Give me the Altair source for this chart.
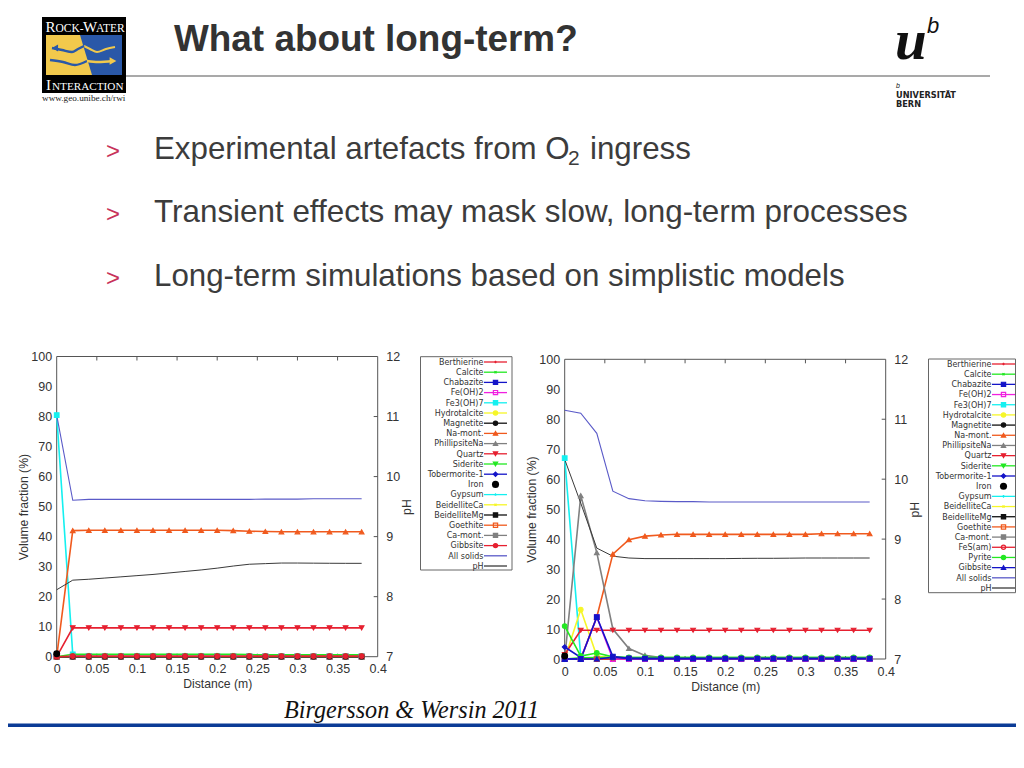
import altair as alt
import pandas as pd

# ---------- values ----------
X = [0, 0.02, 0.04, 0.06, 0.08, 0.1, 0.12, 0.14, 0.16, 0.18, 0.2, 0.22, 0.24, 0.26, 0.28, 0.3, 0.32, 0.34, 0.36, 0.38]
X_TICKS = [0, 0.05, 0.1, 0.15, 0.2, 0.25, 0.3, 0.35, 0.4]
Y_TICKS = [0, 10, 20, 30, 40, 50, 60, 70, 80, 90, 100]
PH_TICKS = [7, 8, 9, 10, 11, 12]

ZERO = [0, 0, 0, 0, 0, 0, 0, 0, 0, 0, 0, 0, 0, 0, 0, 0, 0, 0, 0, 0]

# left panel
L_CALCITE = [0, 0.8, 0.8, 0.8, 0.8, 0.8, 0.8, 0.8, 0.8, 0.8, 0.8, 0.8, 0.7, 0.6, 0.6, 0.6, 0.6, 0.6, 0.6, 0.6]
L_FE3 = [80.5, 0.8, 0.2, 0.1, 0.1, 0.1, 0.1, 0.1, 0.1, 0.1, 0.1, 0.1, 0.1, 0.1, 0.1, 0.1, 0.1, 0.1, 0.1, 0.1]
L_NAMONT = [0, 42, 42.1, 42.1, 42.1, 42.1, 42.1, 42.1, 42.1, 42.1, 42.1, 42, 41.8, 41.7, 41.6, 41.6, 41.6, 41.6, 41.6, 41.6]
L_QUARTZ = [0, 9.6, 9.6, 9.6, 9.6, 9.6, 9.6, 9.6, 9.6, 9.6, 9.6, 9.6, 9.6, 9.6, 9.6, 9.6, 9.6, 9.6, 9.6, 9.6]
L_GIBBSITE = [0, 0.2, 0.2, 0.2, 0.2, 0.2, 0.2, 0.2, 0.2, 0.2, 0.2, 0.2, 0.2, 0.2, 0.2, 0.2, 0.2, 0.2, 0.2, 0.2]
L_ALL = [80.5, 52.1, 52.4, 52.4, 52.4, 52.4, 52.4, 52.4, 52.4, 52.4, 52.4, 52.4, 52.4, 52.5, 52.5, 52.5, 52.6, 52.6, 52.6, 52.6]
L_PH = [8.115, 8.275, 8.29, 8.31, 8.33, 8.35, 8.37, 8.395, 8.42, 8.445, 8.475, 8.51, 8.54, 8.55, 8.56, 8.56, 8.558, 8.556, 8.555, 8.555]
L_IRON = [1.0]

# right panel
R_CALCITE = [0, 0.4, 0.5, 0.5, 0.5, 0.5, 0.5, 0.5, 0.5, 0.5, 0.5, 0.5, 0.5, 0.5, 0.5, 0.5, 0.5, 0.5, 0.5, 0.5]
R_CHABAZITE = [0, 0, 14, 0.8, 0.2, 0.1, 0.1, 0.1, 0.1, 0.1, 0.1, 0.1, 0.1, 0.1, 0.1, 0.1, 0.1, 0.1, 0.1, 0.1]
R_FEOH2 = [0, 0, 14, 0, 0, 0, 0, 0, 0, 0, 0, 0, 0, 0, 0, 0, 0, 0, 0, 0]
R_FE3 = [67, 0.6, 0.1, 0, 0, 0, 0, 0, 0, 0, 0, 0, 0, 0, 0, 0, 0, 0, 0, 0]
R_HYDRO = [0, 16.5, 1, 0.4, 0.2, 0.1, 0, 0, 0, 0, 0, 0, 0, 0, 0, 0, 0, 0, 0, 0]
R_NAMONT = [0, 0, 14, 35, 39.8, 41, 41.4, 41.6, 41.6, 41.6, 41.6, 41.6, 41.6, 41.6, 41.6, 41.6, 41.8, 41.8, 41.8, 41.8]
R_PHILL = [0, 54.5, 35.5, 10, 3.5, 1.2, 0.5, 0.3, 0.2, 0.2, 0.2, 0.2, 0.2, 0.2, 0.2, 0.2, 0.2, 0.2, 0.2, 0.2]
R_QUARTZ = [1.5, 9.6, 9.6, 9.6, 9.6, 9.6, 9.6, 9.6, 9.6, 9.6, 9.6, 9.6, 9.6, 9.6, 9.6, 9.6, 9.6, 9.6, 9.6, 9.6]
R_TOBER = [4, 0.5, 0.1, 0, 0, 0, 0, 0, 0, 0, 0, 0, 0, 0, 0, 0, 0, 0, 0, 0]
R_PYRITE = [11, 1, 2, 0.7, 0.5, 0.5, 0.5, 0.5, 0.5, 0.5, 0.5, 0.5, 0.5, 0.5, 0.5, 0.5, 0.5, 0.5, 0.5, 0.5]
R_GIBBSITE = [0, 0, 0, 0.6, 0.2, 0.2, 0.2, 0.2, 0.2, 0.2, 0.2, 0.2, 0.2, 0.2, 0.2, 0.2, 0.2, 0.2, 0.2, 0.2]
R_ALL = [83, 82, 75.3, 56, 53.5, 52.8, 52.6, 52.5, 52.5, 52.4, 52.4, 52.4, 52.4, 52.4, 52.4, 52.4, 52.4, 52.4, 52.4, 52.4]
R_PH = [10.33, 9.6, 8.85, 8.715, 8.685, 8.675, 8.675, 8.675, 8.675, 8.675, 8.675, 8.678, 8.68, 8.68, 8.682, 8.685, 8.685, 8.685, 8.685, 8.685]
R_IRON = [1.0]

# series styling
RED, GREEN, BLUE = "#e62030", "#22e822", "#1414c8"
MAG, CYAN, YEL = "#f020e0", "#14f0f0", "#f6f628"
ORG, GRAY, BLK = "#f05a1e", "#808080", "#111111"
PLUS = "M-0.6,0L0.6,0M0,-0.6L0,0.6"
CROSS = "M-0.5,-0.5L0.5,0.5M-0.5,0.5L0.5,-0.5"

# name: colour, shape, hollow
STYLE = {
    "Berthierine": (RED, PLUS, False),
    "Calcite": (GREEN, CROSS, False),
    "Chabazite": (BLUE, "square", False),
    "Fe(OH)2": (MAG, "square", True),
    "Fe3(OH)7": (CYAN, "square", False),
    "Hydrotalcite": (YEL, "circle", False),
    "Magnetite": (BLK, "circle", False),
    "Na-mont.": (ORG, "triangle-up", False),
    "PhillipsiteNa": (GRAY, "triangle-up", False),
    "Quartz": (RED, "triangle-down", False),
    "Siderite": (GREEN, "triangle-down", False),
    "Tobermorite-1": (BLUE, "diamond", False),
    "Gypsum": (CYAN, PLUS, False),
    "BeidelliteCa": (YEL, CROSS, False),
    "BeidelliteMg": (BLK, "square", False),
    "Goethite": (ORG, "square", True),
    "Ca-mont.": (GRAY, "square", False),
    "FeS(am)": (RED, "circle", True),
    "Pyrite": (GREEN, "circle", False),
}

LEFT_SERIES = {
    "Berthierine": ZERO, "Chabazite": ZERO, "Fe(OH)2": ZERO, "Fe3(OH)7": L_FE3,
    "Hydrotalcite": ZERO, "Na-mont.": L_NAMONT, "PhillipsiteNa": ZERO,
    "Quartz": L_QUARTZ, "Siderite": ZERO, "Tobermorite-1": ZERO, "Gypsum": ZERO,
    "BeidelliteCa": ZERO, "Goethite": ZERO, "Ca-mont.": ZERO,
    "Calcite": L_CALCITE, "Magnetite": ZERO, "Gibbsite": L_GIBBSITE,
}
RIGHT_SERIES = {
    "Berthierine": ZERO, "Fe3(OH)7": R_FE3, "Hydrotalcite": R_HYDRO,
    "Na-mont.": R_NAMONT, "PhillipsiteNa": R_PHILL, "Quartz": R_QUARTZ,
    "Siderite": ZERO, "Tobermorite-1": R_TOBER, "Gypsum": ZERO, "BeidelliteCa": ZERO,
    "Goethite": ZERO, "Ca-mont.": ZERO, "FeS(am)": ZERO, "Calcite": R_CALCITE, "Pyrite": R_PYRITE,
    "Fe(OH)2": R_FEOH2, "Chabazite": R_CHABAZITE, "Gibbsite": R_GIBBSITE,
}
LEFT_LEGEND = ["Berthierine", "Calcite", "Chabazite", "Fe(OH)2", "Fe3(OH)7", "Hydrotalcite", "Magnetite", "Na-mont.",
               "PhillipsiteNa", "Quartz", "Siderite", "Tobermorite-1", "Iron", "Gypsum", "BeidelliteCa", "BeidelliteMg",
               "Goethite", "Ca-mont.", "Gibbsite", "All solids", "pH"]
RIGHT_LEGEND = ["Berthierine", "Calcite", "Chabazite", "Fe(OH)2", "Fe3(OH)7", "Hydrotalcite", "Magnetite", "Na-mont.",
                "PhillipsiteNa", "Quartz", "Siderite", "Tobermorite-1", "Iron", "Gypsum", "BeidelliteCa", "BeidelliteMg",
                "Goethite", "Ca-mont.", "FeS(am)", "Pyrite", "Gibbsite", "All solids", "pH"]

W, H = 1008, 752
TXT = "#333333"
AXC = "#555555"
FONT = "Liberation Sans"
SERIF = "Liberation Serif"
LOGO_YEL = "#f2c94c"
LOGO_BLUE = "#2a58a8"


def px(v):
    return v - 8


def text(s, x, y, size, color="#333333", font=FONT, align="left", weight="normal", style="normal", angle=0):
    return alt.Chart().mark_text(
        x=px(x), y=px(y), fontSize=size, color=color, font=font, align=align, baseline="alphabetic",
        fontWeight=weight, fontStyle=style, angle=angle,
    ).encode(text=alt.value(s))


SX = alt.Scale(domain=[0, 1024], range=[-8, 1016], nice=False, zero=False)
SY = alt.Scale(domain=[0, 768], range=[-8, 760], nice=False, zero=False)


def pxx(f="x"):
    return alt.X(f"{f}:Q", scale=SX, axis=None)


def pxy(f="y"):
    return alt.Y(f"{f}:Q", scale=SY, axis=None)


def box(x0, y0, x1, y1, fill=None, stroke=None, sw=1):
    d = pd.DataFrame({"x": [x0], "x2": [x1], "y": [y0], "y2": [y1]})
    kw = {"fill": fill if fill else "transparent"}
    if stroke:
        kw["stroke"] = stroke
        kw["strokeWidth"] = sw
    return alt.Chart(d).mark_rect(**kw).encode(x=pxx(), x2="x2:Q", y=pxy(), y2="y2:Q")


def path(xs, ys, color, sw=2.0):
    d = pd.DataFrame({"x": xs, "y": ys, "o": list(range(len(xs)))})
    return alt.Chart(d).mark_line(color=color, strokeWidth=sw, interpolate="monotone").encode(
        x=pxx(), y=pxy(), order="o:Q")


def axis_style(**kw):
    base = dict(grid=False, ticks=False, domain=False, labelFontSize=12.5, labelColor=TXT, labelFont=FONT,
                titleFontSize=12.2, titleColor=TXT, titleFont=FONT, titleFontWeight="normal", labelFlush=False,
                labelOverlap=False)
    base.update(kw)
    return alt.Axis(**base)


def panel(series, all_solids, ph, iron, gibbsite_style, xr, yr):
    x0, x1 = xr
    yb, yt = yr
    xs = alt.Scale(domain=[0, 0.4], range=[px(x0), px(x1)], nice=False, zero=False)
    ys = alt.Scale(domain=[0, 100], range=[px(yb), px(yt)], nice=False, zero=False)
    ps = alt.Scale(domain=[7, 12], range=[px(yb), px(yt)], nice=False, zero=False)
    rows = []
    styles = dict(STYLE)
    styles["Gibbsite"] = gibbsite_style
    for name, vals in series.items():
        c, sh, hollow = styles[name]
        for xv, v in zip(X, vals):
            rows.append({"x": xv, "y": v, "name": name, "c": c, "shape": sh,
                         "fill": "transparent" if hollow or sh in (PLUS, CROSS) else c})
    df = pd.DataFrame(rows)

    x_axis = axis_style(values=X_TICKS, format="~g", title="Distance (m)", orient="bottom",
                        offset=-(H - px(yb)), labelPadding=6, titlePadding=2.5)
    y_axis = axis_style(values=Y_TICKS, title="Volume fraction (%)", orient="left",
                        offset=-px(x0), labelPadding=5, titlePadding=0)
    p_axis = axis_style(values=PH_TICKS, title="pH", orient="right",
                        offset=-(W - px(x1)), labelPadding=8, titlePadding=14, titleAngle=270)

    frame = alt.Chart(pd.DataFrame({"a": [0], "b": [0.4], "c": [0], "d": [100]})).mark_rect(
        fill="transparent", stroke=AXC, strokeWidth=1
    ).encode(x=alt.X("a:Q", scale=xs, axis=None), x2="b:Q", y=alt.Y("c:Q", scale=ys, axis=None), y2="d:Q")

    tick_df = pd.DataFrame({"x": X_TICKS[1:-1]})
    top = alt.Chart(tick_df).mark_rule(color=AXC, strokeWidth=1).encode(
        x=alt.X("x:Q", scale=xs, axis=None), y=alt.value(px(yt)), y2=alt.value(px(yt) + 4))
    bot = alt.Chart(tick_df).mark_rule(color=AXC, strokeWidth=1).encode(
        x=alt.X("x:Q", scale=xs, axis=None), y=alt.value(px(yb) - 3), y2=alt.value(px(yb)))
    rt = alt.Chart(pd.DataFrame({"p": PH_TICKS[1:-1]})).mark_rule(color=AXC, strokeWidth=1).encode(
        y=alt.Y("p:Q", scale=ps, axis=None), x=alt.value(px(x1) - 4), x2=alt.value(px(x1)))

    lines = alt.Chart(df).mark_line(strokeWidth=1.6).encode(
        x=alt.X("x:Q", scale=xs, axis=x_axis),
        y=alt.Y("y:Q", scale=ys, axis=y_axis),
        detail="name:N",
        color=alt.Color("c:N", scale=None),
    )
    pts = alt.Chart(df).mark_point(size=22, filled=False, strokeWidth=1.1, opacity=1).encode(
        x=alt.X("x:Q", scale=xs, axis=None),
        y=alt.Y("y:Q", scale=ys, axis=None),
        stroke=alt.Stroke("c:N", scale=None),
        fill=alt.Fill("fill:N", scale=None),
        shape=alt.Shape("shape:N", scale=None),
    )
    solids = alt.Chart(pd.DataFrame({"x": X, "y": all_solids})).mark_line(color="#5a5ac8", strokeWidth=1.1).encode(
        x=alt.X("x:Q", scale=xs, axis=None), y=alt.Y("y:Q", scale=ys, axis=None))
    phl = alt.Chart(pd.DataFrame({"x": X, "y": ph})).mark_line(color="#3a3a3a", strokeWidth=1.0).encode(
        x=alt.X("x:Q", scale=xs, axis=None), y=alt.Y("y:Q", scale=ps, axis=p_axis))
    ir = alt.Chart(pd.DataFrame({"x": X[:1], "y": iron})).mark_point(filled=True, color="black", size=48, opacity=1).encode(
        x=alt.X("x:Q", scale=xs, axis=None), y=alt.Y("y:Q", scale=ys, axis=None))
    return [frame, top, bot, rt, lines, solids, phl, pts, ir]


def legend(names, box_xy, first, last, text_end, line_x, gibbsite_style):
    x0, y0, x1, y1 = box_xy
    layers = [box(x0, y0, x1, y1, stroke="#666666", sw=1)]
    ysc = alt.Scale(type="point", domain=names, range=[px(first), px(last)], padding=0)
    styles = dict(STYLE)
    styles["Gibbsite"] = gibbsite_style
    styles["Iron"] = (BLK, "circle", False)
    styles["All solids"] = ("#5a5ac8", None, False)
    styles["pH"] = ("#3a3a3a", None, False)
    rows = []
    for n in names:
        c, sh, hollow = styles[n]
        rows.append({"name": n, "c": c, "shape": sh or "circle",
                     "fill": "transparent" if hollow or sh in (PLUS, CROSS) else c,
                     "marked": sh is not None and n != "Iron", "lined": n != "Iron"})
    d = pd.DataFrame(rows)
    Y = alt.Y("name:N", scale=ysc, axis=None, sort=None)
    layers.append(alt.Chart(d).mark_text(align="right", baseline="middle", font="DejaVu Sans", fontSize=8, color=TXT, dy=0.8).encode(
        x=alt.value(px(text_end)), y=Y, text="name:N"))
    layers.append(alt.Chart(d[d.lined]).mark_rule(strokeWidth=1.3).encode(
        x=alt.value(px(line_x)), x2=alt.value(px(line_x + 23)), y=Y, color=alt.Color("c:N", scale=None)))
    layers.append(alt.Chart(d[d.marked]).mark_point(size=18, filled=False, strokeWidth=1.2, opacity=1).encode(
        x=alt.value(px(line_x + 11.5)), y=Y, stroke=alt.Stroke("c:N", scale=None),
        fill=alt.Fill("fill:N", scale=None), shape=alt.Shape("shape:N", scale=None)))
    layers.append(alt.Chart(d[d.name == "Iron"]).mark_point(size=50, filled=True, color="black", opacity=1).encode(
        x=alt.value(px(line_x + 11.5)), y=Y))
    return layers


layers = []

# slide furniture
layers.append(box(0, 723.5, 1024, 727, fill="#0b3b96"))
layers.append(box(126, 75.6, 990, 76.6, fill="#555555"))

# rock-water logo
layers.append(box(42, 17, 126, 93, fill="#000000"))
layers.append(box(46, 35, 122, 75, fill=LOGO_YEL))
blue = pd.DataFrame({"x": [80, 92, 122], "y": [35, 35, 35], "y2": [35, 75, 75]})
layers.append(alt.Chart(blue).mark_area(color=LOGO_BLUE, orient="vertical", opacity=1).encode(
    x=pxx(), y=pxy(), y2="y2:Q"))
layers.append(path([115, 106, 97, 90, 84], [47, 49, 52, 49, 46], LOGO_YEL, 2.0))
layers.append(path([84, 78, 72, 62, 52], [46, 49, 52, 50, 48], LOGO_BLUE, 2.4))
layers.append(path([50, 63, 75, 87], [60, 62, 65, 61], LOGO_BLUE, 2.4))
layers.append(path([87, 98, 113], [61, 62, 61], LOGO_YEL, 2.4))
arrow = pd.DataFrame({"x": [55], "y": [48]})
layers.append(alt.Chart(arrow).mark_point(shape="triangle-left", filled=True, color=LOGO_BLUE, size=50, opacity=1).encode(x=pxx(), y=pxy()))
arrow2 = pd.DataFrame({"x": [113], "y": [61]})
layers.append(alt.Chart(arrow2).mark_point(shape="triangle-right", filled=True, color=LOGO_YEL, size=60, opacity=1).encode(x=pxx(), y=pxy()))
layers.append(text("R", 45.5, 32, 15, "#ffffff", SERIF))
layers.append(text("OCK-", 55.5, 32, 11.5, "#ffffff", SERIF))
layers.append(text("W", 83, 32, 15, "#ffffff", SERIF))
layers.append(text("ATER", 96, 32, 11.5, "#ffffff", SERIF))
layers.append(text("I", 46, 90, 15, "#ffffff", SERIF))
layers.append(text("NTERACTION", 52, 90, 11.2, "#ffffff", SERIF))
layers.append(text("www.geo.unibe.ch/rwi", 42, 101, 9.2, "#222222", SERIF))

# title and bullets
layers.append(text("What about long-term?", 174, 51, 36.9, "#333333", weight="bold"))
layers.append(text(">", 106, 159, 24, "#c8325a"))
layers.append(text(">", 106, 222, 24, "#c8325a"))
layers.append(text(">", 106, 286, 24, "#c8325a"))
layers.append(text("Experimental artefacts from O", 154, 159, 31.3, "#3c3c3c"))
layers.append(text("2", 568, 165, 21, "#3c3c3c"))
layers.append(text("ingress", 590, 159, 31.3, "#3c3c3c"))
layers.append(text("Transient effects may mask slow, long-term processes", 154, 222, 31.4, "#3c3c3c"))
layers.append(text("Long-term simulations based on simplistic models", 154, 286, 31.3, "#3c3c3c"))
layers.append(text("Birgersson & Wersin 2011", 284, 718, 24.2, "#111111", SERIF, style="italic"))

# university logo
layers.append(text("u", 895, 59, 57, "#111111", SERIF, weight="bold", style="italic"))
layers.append(text("b", 927, 33, 22, "#111111", FONT, style="italic"))
layers.append(text("b", 896, 88, 7, "#111111", FONT, style="italic"))
layers.append(text("UNIVERSITÄT", 896, 98, 8.2, "#222222", "DejaVu Sans", weight="bold"))
layers.append(text("BERN", 896, 107, 8.2, "#222222", "DejaVu Sans", weight="bold"))

# charts
GIB_L = (RED, "circle", False)
GIB_R = (BLUE, "triangle-up", False)
layers += panel(LEFT_SERIES, L_ALL, L_PH, L_IRON, GIB_L, (56.7, 377.7), (656.7, 356.5))
layers += panel(RIGHT_SERIES, R_ALL, R_PH, R_IRON, GIB_R, (564.7, 885.7), (659, 359.3))
layers += legend(LEFT_LEGEND, (420.5, 356.7, 512, 570), 362, 566, 483.5, 484, GIB_L)
layers += legend(RIGHT_LEGEND, (928.5, 359, 1015.5, 592.7), 364, 588, 991.5, 992, GIB_R)

chart = alt.layer(*layers).resolve_scale(x="independent", y="independent").properties(
    width=W, height=H, padding=0, autosize=alt.AutoSizeParams(type="none"), background="white"
).configure_view(stroke=None)

chart.save("out.html", embed_options={"renderer": "svg", "actions": False})
